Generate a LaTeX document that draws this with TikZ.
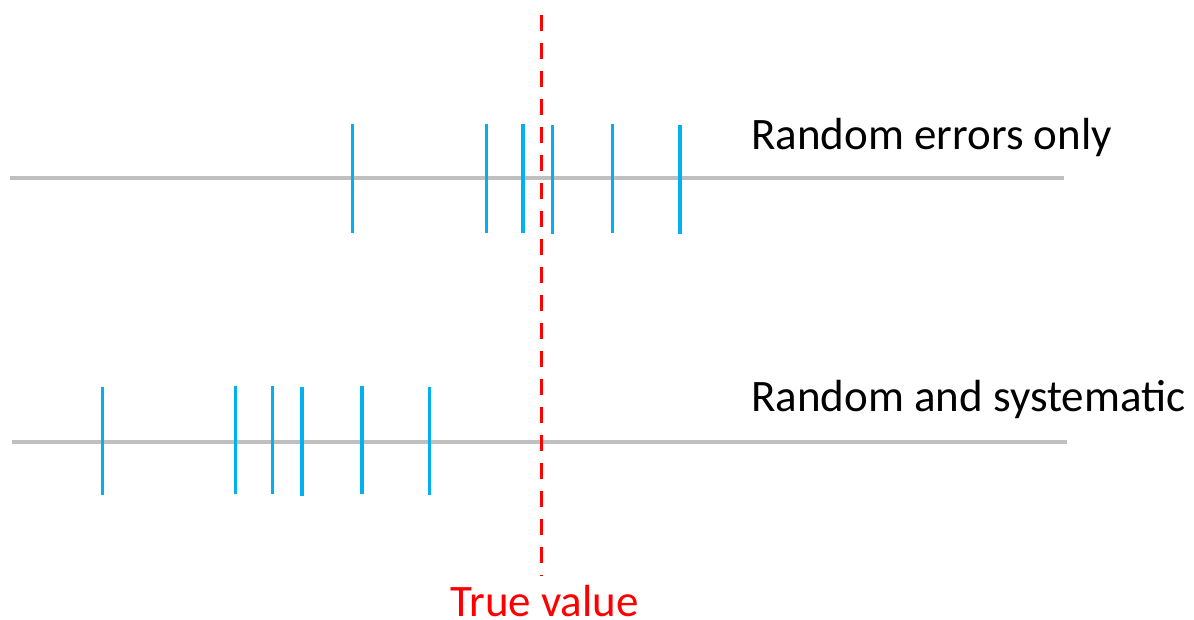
\documentclass[tikz,border=0pt]{standalone}
\usepackage{fontspec}
\setmainfont{Carlito}
\begin{document}
\begin{tikzpicture}[x=1pt,y=-1pt,
  axisline/.style={draw=axisgray,line width=4.5pt},
  tick/.style={draw=tickblue,line width=3.5pt},
  truth/.style={draw=red,line width=3.5pt,dash pattern=on 16pt off 12pt},
  lbl/.style={anchor=base west,inner sep=0pt,font=\fontsize{45}{54}\selectfont}]
\definecolor{axisgray}{HTML}{BFBFBF}
\definecolor{tickblue}{HTML}{00B0F0}
\useasboundingbox (0,0) rectangle (1194,619);
% axis lines
\coordinate (a1) at (10,178);
\coordinate (b1) at (1064,178);
\coordinate (a2) at (12,442);
\coordinate (b2) at (1067,442);
\draw[axisline] (a1) -- (b1);
\draw[axisline] (a2) -- (b2);
% ticks, top
\foreach \x/\t/\b in {352.7/124/233, 486.3/124/233, 523/124/233, 552.3/125/234, 612.3/124/233, 680/124.5/233.5}
  \draw[tick] (\x,\t) -- (\x,\b);
% ticks, bottom
\foreach \x/\t/\b in {102.3/386.5/495, 235.7/385.5/494, 272.7/385.5/494, 302/387/496, 362/385.5/494, 429.3/386.5/495}
  \draw[tick] (\x,\t) -- (\x,\b);
% true value line
\coordinate (t1) at (541.7,15);
\coordinate (t2) at (541.7,576);
\draw[truth] (t1) -- (t2);
% labels
\node[lbl] (l1) at (751,149.3) {Random errors only};
\node[lbl] (l2) at (751,411.7) {Random and systematic};
\node[lbl,text=red] (l3) at (450,616.5) {True value};
\end{tikzpicture}
\end{document}
